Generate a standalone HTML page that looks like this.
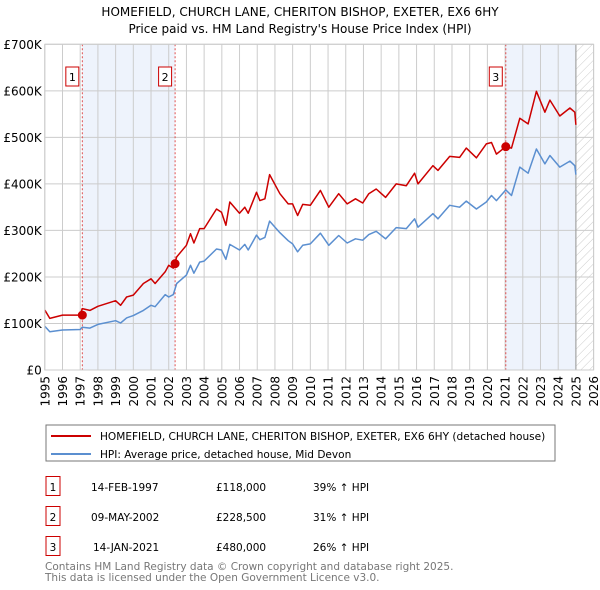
<!DOCTYPE html>
<html><head><meta charset="utf-8"><style>
body{margin:0;background:#fff;font-family:"DejaVu Sans","Liberation Sans",sans-serif;}
#wrap{position:relative;width:600px;height:590px;overflow:hidden;}
</style></head><body><div id="wrap">
<svg id="chart" width="600" height="590" style="position:absolute;left:0;top:0"></svg>
</div>
<script>
const hpiYears=[1995,1995.28,1996,1997,1997.11,1997.55,1998,1999,1999.28,1999.62,2000,2000.57,2001,2001.23,2001.8,2002,2002.26,2002.45,2003,2003.23,2003.42,2003.75,2004,2004.7,2004.98,2005.23,2005.45,2006,2006.3,2006.49,2006.96,2007.15,2007.43,2007.7,2008.28,2008.75,2009,2009.28,2009.57,2010,2010.57,2011.04,2011.6,2012.08,2012.55,2012.96,2013.3,2013.72,2014.25,2014.85,2015.42,2015.89,2016.08,2016.92,2017.21,2017.87,2018.43,2018.81,2019.38,2019.94,2020.23,2020.51,2021.04,2021.36,2021.83,2022.3,2022.77,2023.25,2023.53,2024.09,2024.66,2024.94,2025.0];
const hpiVals=[94,82,86,87,92,90,98,106,101,112,117,128,139,136,162,157,162,186,204,225,208,232,234,260,258,238,270,258,270,258,290,280,285,320,295,278,271,254,268,271,294,268,289,273,282,279,291,298,282,306,304,325,307,336,325,354,350,363,346,361,375,364,387,375,436,423,475,443,461,436,449,439,420];
const ppYears=hpiYears;
const ppVals=[129,111,118,118,132,128,137,149,139,157,161,186,196,186,211,225,219,243,268,293,273,304,304,346,339,311,361,337,350,337,382,364,368,420,379,357,357,332,356,354,386,350,379,357,368,359,379,389,371,400,396,423,400,439,429,459,457,477,456,486,489,464,480,477,541,529,599,554,580,546,563,554,527];
const saleYears=[1997.12,2002.36,2021.04];
const saleVals=[118,228.5,480];
const saleLabels=["1","2","3"];
const yTicks=[0,100,200,300,400,500,600,700];
const yTickLabels=["£0","£100K","£200K","£300K","£400K","£500K","£600K","£700K"];
const xTicks=[1995,1996,1997,1998,1999,2000,2001,2002,2003,2004,2005,2006,2007,2008,2009,2010,2011,2012,2013,2014,2015,2016,2017,2018,2019,2020,2021,2022,2023,2024,2025,2026];
const dataEnd=2025.0;

const NS="http://www.w3.org/2000/svg";
const svg=document.getElementById('chart');
const L=44.8,R=593.6,T=44.3,B=370;
const xS=y=>L+(y-1995)*(R-L)/31;
const yS=v=>B-v*(B-T)/700;
function mk(tag,at,parent){const e=document.createElementNS(NS,tag);for(const k in at)e.setAttribute(k,at[k]);(parent||svg).appendChild(e);return e;}
function txt(x,y,s,at){const e=mk('text',Object.assign({x:x,y:y,'font-family':'DejaVu Sans, Liberation Sans, sans-serif','font-size':12,fill:'#000'},at||{}));e.textContent=s;return e;}

let e=txt(300,16,"HOMEFIELD, CHURCH LANE, CHERITON BISHOP, EXETER, EX6 6HY",{'text-anchor':'middle'});


e=txt(300,33,"Price paid vs. HM Land Registry's House Price Index (HPI)",{'text-anchor':'middle'});



[[saleYears[0],saleYears[1]],[saleYears[2],dataEnd]].forEach((p,i)=>{
 const r=mk('rect',{x:xS(p[0]),y:T,width:xS(p[1])-xS(p[0]),height:B-T,fill:'#eef3fc'});
 
 
});
const defs=mk('defs',{});
const pat=mk('pattern',{id:'h',width:6,height:6,patternUnits:'userSpaceOnUse',patternTransform:'rotate(45)'},defs);
mk('line',{x1:0,y1:0,x2:0,y2:6,stroke:'#ccc','stroke-width':1},pat);
e=mk('rect',{x:xS(dataEnd),y:T,width:R-xS(dataEnd),height:B-T,fill:'url(#h)'});



xTicks.forEach(y=>{
 const g=mk('line',{x1:xS(y),x2:xS(y),y1:T,y2:B,stroke:'#ccc','stroke-width':1});
 
 
 const t=txt(0,0,String(y),{transform:`translate(${xS(y)+4.5},${B+6}) rotate(-90)`,'text-anchor':'end'});
 
 
});
yTicks.forEach((v,i)=>{
 const g=mk('line',{x1:L,x2:R,y1:yS(v),y2:yS(v),stroke:'#ccc','stroke-width':1});
 
 
 const t=txt(L-3,yS(v)+4.5,yTickLabels[i],{'text-anchor':'end'});
 
 
});
e=mk('line',{x1:xS(dataEnd),x2:xS(dataEnd),y1:T,y2:B,stroke:'#999','stroke-width':1});



saleYears.forEach((y,i)=>{
 const l=mk('line',{x1:xS(y),x2:xS(y),y1:T,y2:B,stroke:'#e05050','stroke-width':1,'stroke-dasharray':'2,2'});
 
 
 const bx=xS(y)-16.5;
 const r=mk('rect',{x:bx,y:67,width:13,height:19,fill:'#fff',stroke:'#c00','stroke-width':1});
 
 
 const t=txt(bx+6.5,81,saleLabels[i],{'text-anchor':'middle','font-size':11});
 
 
});

function path(xs,vs,col,name){
 const d=xs.map((x,i)=>(i?'L':'M')+xS(x).toFixed(1)+','+yS(vs[i]).toFixed(1)).join('');
 const p=mk('path',{d:d,fill:'none',stroke:col,'stroke-width':1.5,'stroke-linejoin':'round'});
 
 
}
path(hpiYears,hpiVals,'#5b8fd0','hpi-line');
path(ppYears,ppVals,'#cc0000','price-paid-line');
saleYears.forEach((y,i)=>{
 const c=mk('circle',{cx:xS(y),cy:yS(saleVals[i]),r:4.5,fill:'#cc0000'});
 
 
});
e=mk('rect',{x:L,y:T,width:R-L,height:B-T,fill:'none',stroke:'#ccc'});



const lg=mk('g',{});


mk('rect',{x:46,y:425,width:509,height:36,fill:'#fff',stroke:'#777'},lg);
mk('line',{x1:51,x2:91,y1:436,y2:436,stroke:'#cc0000','stroke-width':2},lg);
mk('line',{x1:51,x2:91,y1:454,y2:454,stroke:'#5b8fd0','stroke-width':2},lg);
e=txt(100,440,"HOMEFIELD, CHURCH LANE, CHERITON BISHOP, EXETER, EX6 6HY (detached house)",{'font-size':10.55});


lg.appendChild(e);
e=txt(100,458,"HPI: Average price, detached house, Mid Devon",{'font-size':10.55});


lg.appendChild(e);

const rowsD=["14-FEB-1997","09-MAY-2002","14-JAN-2021"];
const rowsP=["£118,000","£228,500","£480,000"];
const rowsH=["39% ↑ HPI","31% ↑ HPI","26% ↑ HPI"];
rowsD.forEach((d,i)=>{
 const y=483+i*30;
 const r=mk('rect',{x:46,y:y-6.5,width:14,height:19,fill:'#fff',stroke:'#c00'});
 
 
 let t=txt(53,y+8,String(i+1),{'text-anchor':'middle','font-size':10.5});
 
 
 t=txt(i==2?93:91,y+8,d,{'font-size':10.5});
 
 
 t=txt(216,y+8,rowsP[i],{'font-size':10.5});
 
 
 t=txt(313,y+8,rowsH[i],{'font-size':10.5});
 
 
});
e=txt(45,570,"Contains HM Land Registry data © Crown copyright and database right 2025.",{'font-size':10.5,fill:'#777'});


e=txt(45,581,"This data is licensed under the Open Government Licence v3.0.",{'font-size':10.5,fill:'#777'});


</script></body></html>
